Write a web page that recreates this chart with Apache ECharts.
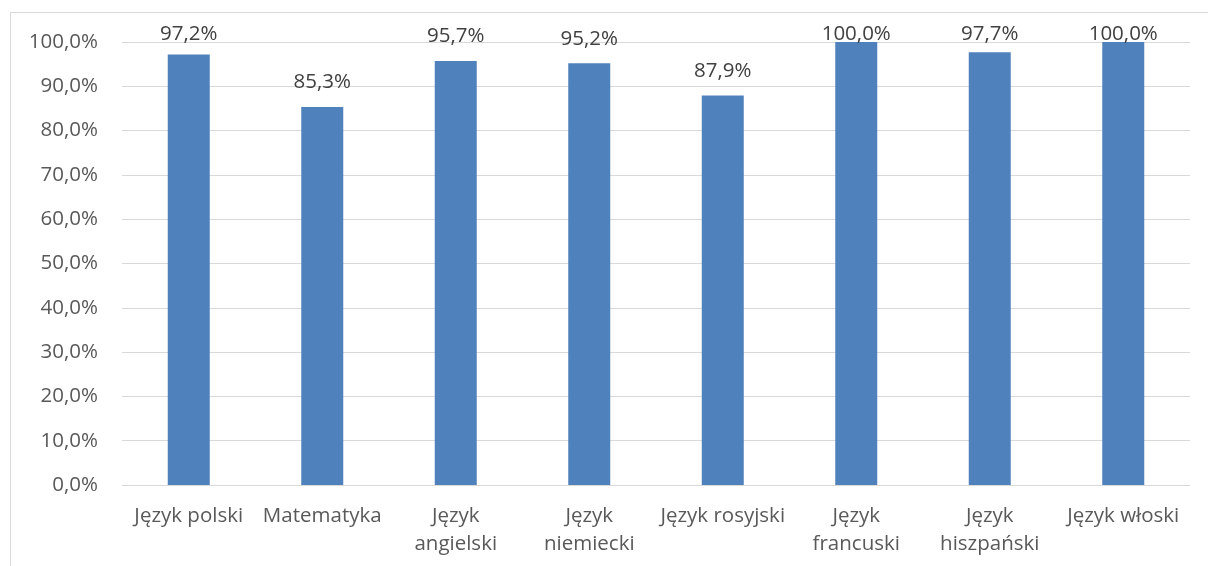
<!DOCTYPE html>
<html><head><meta charset="utf-8">
<script src="https://cdn.jsdelivr.net/npm/echarts@6/dist/echarts.min.js"></script>
<style>html,body{margin:0;padding:0;background:#fff}#frame{position:absolute;left:10px;top:12px;width:1300px;height:700px;border:1px solid #d9d9d9;box-sizing:border-box}#c{position:absolute;left:0;top:0;width:1208px;height:566px}</style>
</head><body>
<div id="frame"></div>
<div id="c"></div>
<script>
const categories = ["Język polski","Matematyka","Język\nangielski","Język\nniemiecki","Język rosyjski","Język\nfrancuski","Język\nhiszpański","Język włoski"];
const values = [97.2, 85.3, 95.7, 95.2, 87.9, 100.0, 97.7, 100.0];
const fmt = v => v.toFixed(1).replace('.', ',') + '%';
const chart = echarts.init(document.getElementById('c'));
const font = "'Open Sans', 'Noto Sans', sans-serif";
const LABEL_GAP = 14;
const LABEL_MAX_BOTTOM = 44.5;
chart.setOption({
  animation:false,
  grid:{left:122,right:18,top:42,bottom:81,containLabel:false},
  xAxis:{type:'category',data:categories,
    axisLine:{show:false},axisTick:{show:false},
    axisLabel:{color:'#595959',fontSize:20.5,fontFamily:font,margin:17,lineHeight:28,interval:0}},
  yAxis:{type:'value',min:0,max:100,interval:10,
    axisLine:{show:false},axisTick:{show:false},
    splitLine:{lineStyle:{color:'#d9d9d9',width:1}},
    axisLabel:{color:'#595959',fontSize:20.5,fontFamily:font,margin:24,formatter:v=>fmt(v)}},
  series:[{type:'bar',data:values,barWidth:42,
    itemStyle:{color:'#4F81BD'},
    label:{show:true,position:'top',distance:LABEL_GAP,color:'#404040',fontSize:20.5,fontFamily:font,formatter:p=>fmt(p.value)}}]
});
const dataWithLabels = values.map((v, i) => {
  const top = chart.convertToPixel({gridIndex:0}, [i, v])[1];
  const bottom = Math.max(top - LABEL_GAP, LABEL_MAX_BOTTOM);
  return {value: v, label: {distance: top - bottom}};
});
chart.setOption({series:[{data:dataWithLabels}]});
</script>
</body></html>
